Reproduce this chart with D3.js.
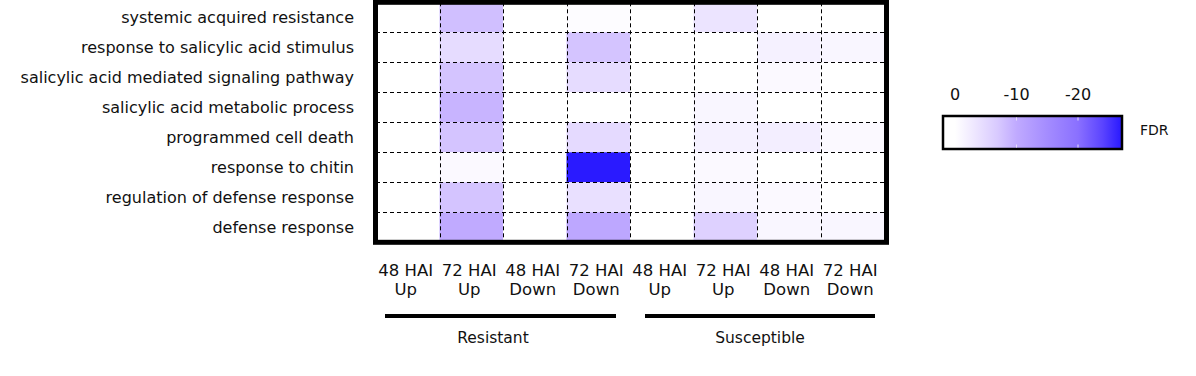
<!DOCTYPE html>
<html>
<head>
<meta charset="utf-8">
<script src="https://cdn.jsdelivr.net/npm/d3@7"></script>
<style>
  body { margin: 0; background: #fff; }
  svg { display: block; font-family: "DejaVu Sans", Tahoma, sans-serif; }
</style>
</head>
<body>
<div id="chart"></div>
<script>
var terms = [
  "systemic acquired resistance",
  "response to salicylic acid stimulus",
  "salicylic acid mediated signaling pathway",
  "salicylic acid metabolic process",
  "programmed cell death",
  "response to chitin",
  "regulation of defense response",
  "defense response"
];

var samples = ["R48Up", "R72Up", "R48Down", "R72Down", "S48Up", "S72Up", "S48Down", "S72Down"];
var sampleTime = ["48 HAI", "72 HAI", "48 HAI", "72 HAI", "48 HAI", "72 HAI", "48 HAI", "72 HAI"];
var sampleDir = ["Up", "Up", "Down", "Down", "Up", "Up", "Down", "Down"];
var groups = ["Resistant", "Susceptible"];

// log FDR per sample, one array per column, rows in order of terms
var R48Up   = [0, 0, 0, 0, 0, 0, 0, 0];
var R72Up   = [-8, -4.5, -7.5, -9, -7.5, -0.8, -7.5, -10];
var R48Down = [0, 0, 0, 0, 0, 0, 0, 0];
var R72Down = [-0.4, -7.5, -4.5, 0, -4.8, -27, -4, -10.5];
var S48Up   = [0, 0, 0, 0, 0, 0, 0, 0];
var S72Up   = [-3.5, 0, 0, -1.2, -1.8, -0.8, -1.2, -6];
var S48Down = [0, -1.8, -0.8, 0, -2.2, 0, -0.8, -1.2];
var S72Down = [0, -1.2, 0, 0, -0.8, 0, 0, -1.2];
var columns = [R48Up, R72Up, R48Down, R72Down, S48Up, S72Up, S48Down, S72Down];

var legendTicks = [0, -10, -20];

var width = 1196, height = 376;

var cells = [];
columns.forEach(function(col, j) {
  col.forEach(function(v, i) {
    cells.push({term: terms[i], sample: samples[j], value: v});
  });
});

var x = d3.scaleBand().domain(samples).range([376, 884]);
var y = d3.scaleBand().domain(terms).range([2.3, 242.3]);

var colorStops = [0, -3, -7, -10, -15, -20, -24, -27];
var color = d3.scaleLinear()
  .domain(colorStops)
  .range(["#ffffff", "#efe8ff", "#d8c9ff", "#c0aaff", "#a48cff", "#8a70ff", "#5b44ff", "#2a1aff"]);

var svg = d3.select("#chart").append("svg")
  .attr("width", width)
  .attr("height", height)
  .attr("viewBox", [0, 0, width, height]);

// cells
svg.append("g")
  .selectAll("rect")
  .data(cells)
  .join("rect")
  .attr("x", d => x(d.sample))
  .attr("y", d => y(d.term))
  .attr("width", x.bandwidth())
  .attr("height", y.bandwidth())
  .attr("fill", d => color(d.value));

// dashed grid
var grid = svg.append("g")
  .attr("stroke", "#000")
  .attr("stroke-width", 1)
  .attr("stroke-dasharray", "4,3");
grid.selectAll("line.v")
  .data(samples.slice(1))
  .join("line")
  .attr("class", "v")
  .attr("x1", d => Math.round(x(d)) + 0.5)
  .attr("x2", d => Math.round(x(d)) + 0.5)
  .attr("y1", y.range()[0])
  .attr("y2", y.range()[1]);
grid.selectAll("line.h")
  .data(terms.slice(1))
  .join("line")
  .attr("class", "h")
  .attr("y1", d => Math.round(y(d)) + 0.5)
  .attr("y2", d => Math.round(y(d)) + 0.5)
  .attr("x1", x.range()[0])
  .attr("x2", x.range()[1]);

// thick frame
svg.append("rect")
  .attr("x", 375.5)
  .attr("y", 2.3)
  .attr("width", 511)
  .attr("height", 240)
  .attr("fill", "none")
  .attr("stroke", "#000")
  .attr("stroke-width", 5);

// row labels
svg.append("g")
  .selectAll("text")
  .data(terms)
  .join("text")
  .attr("x", 354)
  .attr("y", d => y(d) + y.bandwidth() / 2)
  .attr("dy", "0.35em")
  .attr("text-anchor", "end")
  .attr("font-size", 16)
  .attr("fill", "#111")
  .text(d => d);

// column labels
var colLab = svg.append("g")
  .selectAll("text")
  .data(samples)
  .join("text")
  .attr("text-anchor", "middle")
  .attr("font-size", 16.5)
  .attr("fill", "#111");
colLab.append("tspan")
  .attr("x", d => x(d) + x.bandwidth() / 2 - 2)
  .attr("y", 276)
  .text((d, i) => sampleTime[i]);
colLab.append("tspan")
  .attr("x", d => x(d) + x.bandwidth() / 2 - 2)
  .attr("y", 295)
  .text((d, i) => sampleDir[i]);

// group bars and labels
var groupSpan = groups.map(function(g, k) {
  var first = samples[k * 4], last = samples[k * 4 + 3];
  return {
    name: g,
    x1: x(first) + (k ? 15 : 9),
    x2: x(last) + x.bandwidth() - (k ? 9 : 14),
    cx: (x(first) + x(last) + x.bandwidth()) / 2 + (k ? 3 : -10)
  };
});
svg.append("g")
  .selectAll("line")
  .data(groupSpan)
  .join("line")
  .attr("x1", d => d.x1)
  .attr("x2", d => d.x2)
  .attr("y1", 316)
  .attr("y2", 316)
  .attr("stroke", "#000")
  .attr("stroke-width", 4);
svg.append("g")
  .selectAll("text")
  .data(groupSpan)
  .join("text")
  .attr("x", d => d.cx)
  .attr("y", 343)
  .attr("text-anchor", "middle")
  .attr("font-size", 15.5)
  .attr("fill", "#111")
  .text(d => d.name);

// legend
var lx = d3.scaleLinear().domain([0, -20]).range([955, 1078]);
var defs = svg.append("defs");
var grad = defs.append("linearGradient")
  .attr("id", "fdr-grad")
  .attr("gradientUnits", "userSpaceOnUse")
  .attr("x1", lx(0)).attr("x2", lx(-27))
  .attr("y1", 0).attr("y2", 0);
grad.selectAll("stop")
  .data(colorStops)
  .join("stop")
  .attr("offset", d => d / -27)
  .attr("stop-color", d => color(d));

var legend = svg.append("g");
legend.append("rect")
  .attr("x", 943)
  .attr("y", 116)
  .attr("width", 179)
  .attr("height", 33)
  .attr("fill", "url(#fdr-grad)")
  .attr("stroke", "#000")
  .attr("stroke-width", 2.5);
legend.selectAll("line.tick")
  .data(legendTicks.slice(1))
  .join("line")
  .attr("class", "tick")
  .attr("x1", d => lx(d))
  .attr("x2", d => lx(d))
  .attr("y1", 117.5)
  .attr("y2", 147.5)
  .attr("stroke", "#e8e0f8")
  .attr("stroke-dasharray", "3,24")
  .attr("stroke-width", 1);
legend.selectAll("text.tl")
  .data(legendTicks)
  .join("text")
  .attr("class", "tl")
  .attr("x", d => lx(d))
  .attr("y", 100)
  .attr("text-anchor", "middle")
  .attr("font-size", 16)
  .attr("fill", "#111")
  .text(d => d === 0 ? "0" : d3.format("d")(d).replace("−", "-"));
legend.append("text")
  .attr("x", 1140)
  .attr("y", 135)
  .attr("font-size", 14)
  .attr("fill", "#111")
  .text("FDR");
</script>
</body>
</html>
